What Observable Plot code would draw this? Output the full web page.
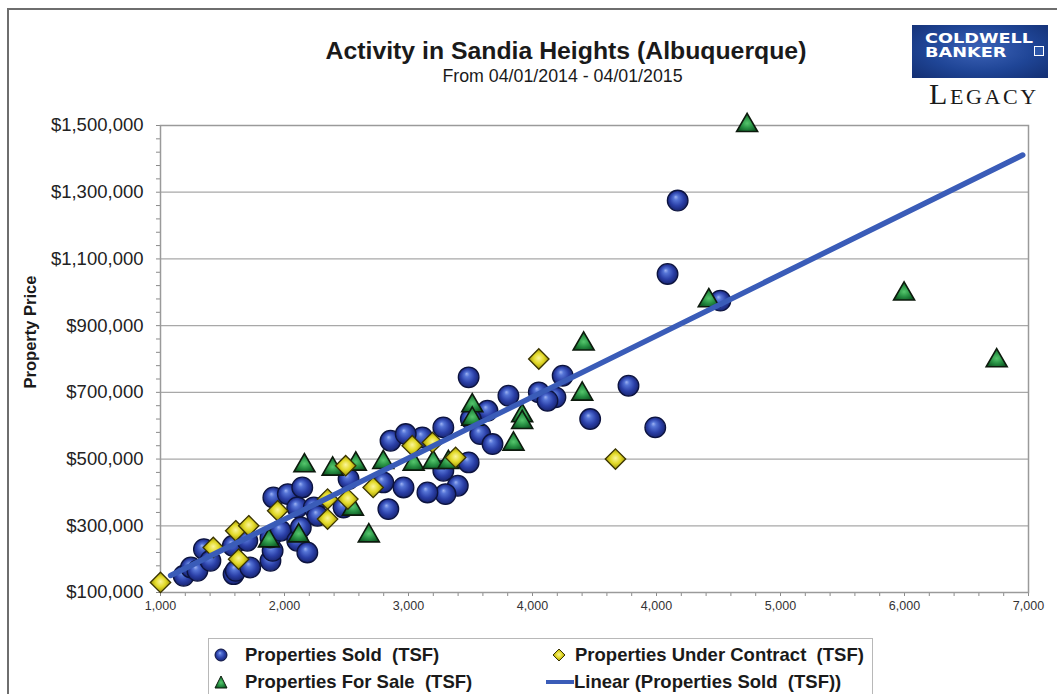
<!DOCTYPE html>
<html>
<head>
<meta charset="utf-8">
<script src="https://cdn.jsdelivr.net/npm/d3@7"></script>
<script src="https://cdn.jsdelivr.net/npm/@observablehq/plot@0.6"></script>
<style>
  html, body { margin: 0; padding: 0; background: #fff; }
  #wrap { position: relative; width: 1057px; height: 694px; overflow: hidden; background: #fff;
          font-family: Arial, "Liberation Sans", sans-serif; color: #222; }
  #frameL { position: absolute; left: 7px; top: 8px; width: 2px; height: 700px; background: #6e6e6e; }
  #frameT { position: absolute; left: 7px; top: 8px; width: 1060px; height: 2px; background: #6e6e6e; }
  #title { position: absolute; left: 0; width: 1132px; top: 36px; line-height: 30px; text-align: center; font-weight: bold; font-size: 24.8px; color: #1a1a1a; }
  #subtitle { position: absolute; left: 0; width: 1125px; top: 66px; line-height: 20px; text-align: center; font-size: 17.8px; color: #1a1a1a; }
  #ylabel { position: absolute; left: 30px; top: 332px; transform: translate(-50%, -50%) rotate(-90deg); font-weight: bold; font-size: 16.5px; white-space: nowrap; color: #1a1a1a; }
  #chart { position: absolute; left: 0; top: 0; }
  #logo { position: absolute; left: 912px; top: 25px; width: 136px; height: 53px;
          background: radial-gradient(ellipse at 50% 45%, #3d63b8 0%, #1f4596 55%, #132f72 100%); }
  #logo .l1, #logo .l2 { position: absolute; left: 13px; color: #fff; font-weight: bold; font-size: 14.5px; line-height: 13px; height: 13px;
          font-family: "DejaVu Sans", Arial, sans-serif; transform-origin: left center; white-space: nowrap; }
  #logo .l1 { top: 7px; transform: scaleX(1.22); } #logo .l2 { top: 21px; transform: scaleX(1.22); }
  #logo .ico { position: absolute; left: 122px; top: 21px; width: 8px; height: 8px; border: 1.5px solid #fff; background: #2c56a8; }
  #legacy { position: absolute; left: 929px; top: 78px; line-height: 32px; font-family: "Liberation Serif", "DejaVu Serif", serif; color: #1a1a1a; letter-spacing: 2.6px; white-space: nowrap; }
  #legacy .big { font-size: 30px; } #legacy .small { font-size: 22px; }
  #legend { position: absolute; left: 208px; top: 638px; width: 663px; height: 70px; border: 1px solid #b8b8b8; background: #fff; }
  .item { position: absolute; font-weight: bold; font-size: 18.5px; line-height: 22px; color: #1a1a1a; white-space: nowrap; display: flex; align-items: center; }
  .item svg { overflow: visible; }
</style>
</head>
<body>
<div id="wrap">
  <div id="frameL"></div>
  <div id="frameT"></div>
  <div id="chart"></div>
  <div id="title">Activity in Sandia Heights (Albuquerque)</div>
  <div id="subtitle">From 04/01/2014 - 04/01/2015</div>
  <div id="ylabel">Property Price</div>
  <div id="logo"><div class="l1">COLDWELL</div><div class="l2">BANKER</div><div class="ico"></div></div>
  <div id="legacy"><span class="big">L</span><span class="small">EGACY</span></div>
  <div id="legend"></div>
</div>
<script>
// ---- Data (square feet, price in dollars) ----
const soldSqft = [1160,1210,1255,1300,1345,1505,1520,1620,1500,1600,1760,1775,1760,1780,1880,1945,1980,1830,1945,2015,1970,2060,2085,2265,2300,2540,2680,2575,2590,3130,3405,3615,3780,3730,3675,4235,3970,4420,3260,3145,3210,3295,2955,2810,2695,3130,2955,3055,2970,2845,4575,4505,4870];
const soldPrice = [150,175,165,230,195,155,165,175,240,255,195,225,265,385,395,355,415,285,255,220,295,355,330,355,440,430,415,350,555,745,690,700,750,685,675,720,620,595,645,620,575,545,595,565,575,490,465,420,395,400,1275,1055,975].map(v => v * 1000);

const saleSqft = [1750,1955,1995,2190,2350,2540,2330,2440,2750,2885,2990,3155,3155,3500,3500,3440,3915,3925,4790,5055,6140,6780];
const salePrice = [255,270,480,470,485,490,350,270,485,490,490,660,620,630,610,545,695,845,975,1500,995,795].map(v => v * 1000);

const contractSqft = [1000,1365,1540,1520,1610,1810,2155,2155,2295,2280,2470,2740,2880,3040,3615,4145];
const contractPrice = [130,235,200,285,300,345,380,320,380,480,415,540,550,505,800,500].map(v => v * 1000);

// Linear trendline of Properties Sold (as drawn in the source chart)
const trendSlope = 214;        // $ per sq ft
const trendIntercept = -78000; // $
const trendRange = [1070, 6960];

// Axis ticks and labels
const xDomain = [1000, 7000];
const xTickLabels = ["1,000", "2,000", "3,000", "4,000", "4,000", "5,000", "6,000", "7,000"];
const yDomain = [100000, 1500000];
const yMajorTicks = [100000, 300000, 500000, 700000, 900000, 1100000, 1300000, 1500000];
const yTickLabels = ["$100,000", "$300,000", "$500,000", "$700,000", "$900,000", "$1,100,000", "$1,300,000", "$1,500,000"];

const seriesNames = ["Properties Sold  (TSF)", "Properties Under Contract  (TSF)", "Properties For Sale  (TSF)", "Linear (Properties Sold  (TSF))"];

// ---- Build tables ----
const sold = soldSqft.map((x, i) => ({sqft: x, price: soldPrice[i]}));
const forSale = saleSqft.map((x, i) => ({sqft: x, price: salePrice[i]}));
const contract = contractSqft.map((x, i) => ({sqft: x, price: contractPrice[i]}));
const trend = trendRange.map(x => ({sqft: x, price: trendIntercept + trendSlope * x}));

const xStep = (xDomain[1] - xDomain[0]) / (xTickLabels.length - 1) / 5;
const xTicks = d3.range(0, (xTickLabels.length - 1) * 5 + 1).map(k => xDomain[0] + k * xStep);
const yStep = 40000;
const yTicks = d3.range(yDomain[0], yDomain[1] + 1, yStep);

const fmtX = d => { const k = Math.round((d - xDomain[0]) / xStep); return k % 5 === 0 ? xTickLabels[k / 5] : ""; };
const fmtY = d => { const i = yMajorTicks.indexOf(d); return i >= 0 ? yTickLabels[i] : ""; };

const chart = Plot.plot({
  width: 1057,
  height: 620,
  marginLeft: 160,
  marginRight: 29,
  marginTop: 125,
  marginBottom: 28,
  style: {fontFamily: "Arial, 'Liberation Sans', sans-serif", fontSize: "18.5px", color: "#222", background: "transparent", overflow: "visible"},
  x: {domain: xDomain, ticks: xTicks, tickFormat: fmtX, tickSize: 4, tickPadding: 5, label: null},
  y: {domain: yDomain, ticks: yTicks, tickFormat: fmtY, tickSize: 4, tickPadding: 13, label: null},
  marks: [
    Plot.ruleY(yMajorTicks, {stroke: "#a8a8a8", strokeWidth: 1.2}),
    Plot.frame({stroke: "#9a9a9a", strokeWidth: 1.5}),
    Plot.dot(sold, {x: "sqft", y: "price", r: 10.3, fill: "url(#gBlue)", stroke: "#0c133f", strokeWidth: 1.3}),
    Plot.dot(forSale, {x: "sqft", y: "price", symbol: "triangle", r: 7.8, fill: "url(#gGreen)", stroke: "#0d1a0d", strokeWidth: 1.6}),
    Plot.dot(contract, {x: "sqft", y: "price", symbol: "diamond2", r: 9.2, fill: "url(#gYellow)", stroke: "#3a3400", strokeWidth: 1.3}),
    Plot.line(trend, {x: "sqft", y: "price", stroke: "#3a5cb8", strokeWidth: 5.5, strokeLinecap: "round"})
  ]
});

// gradients for the glossy markers
const defs = d3.select(chart).insert("defs", ":first-child");
function radial(id, stops, fx, fy) {
  const g = defs.append("radialGradient").attr("id", id).attr("cx", "50%").attr("cy", "50%").attr("r", "55%").attr("fx", fx).attr("fy", fy);
  stops.forEach(([o, c]) => g.append("stop").attr("offset", o).attr("stop-color", c));
}
radial("gBlue", [[0, "#9db2f2"], [0.22, "#5574d6"], [0.6, "#2b40a8"], [1, "#141f66"]], "40%", "32%");
radial("gGreen", [[0, "#55c56c"], [0.5, "#2a9446"], [1, "#0f5e25"]], "50%", "55%");
radial("gYellow", [[0, "#fbf59a"], [0.45, "#e3da2a"], [1, "#8f8500"]], "50%", "45%");

d3.select(chart).selectAll('[aria-label^="x-axis"] text').attr("font-size", "12.5px").attr("fill", "#333");
d3.select(chart).selectAll('[aria-label^="y-axis"] text').attr("fill", "#222");
d3.select(chart).selectAll('[aria-label^="x-axis"] path, [aria-label^="y-axis"] path, [aria-label^="x-axis"] line, [aria-label^="y-axis"] line').attr("stroke", "#8a8a8a");

document.getElementById("chart").appendChild(chart);

// ---- Legend ----
const legend = document.getElementById("legend");
const sym = {
  circle: '<svg width="14" height="16" style="margin-right:17px"><circle cx="7" cy="8" r="6" fill="url(#gBlue)" stroke="#0c133f" stroke-width="1"/></svg>',
  diamond: '<svg width="14" height="16" style="margin-right:9px"><path d="M7,2L13,8L7,14L1,8Z" fill="url(#gYellow)" stroke="#3a3400" stroke-width="1"/></svg>',
  triangle: '<svg width="14" height="16" style="margin-right:17px"><path d="M7,2L13,14L1,14Z" fill="url(#gGreen)" stroke="#0d1a0d" stroke-width="1"/></svg>',
  line: '<svg width="28" height="16" style="margin-right:0px"><line x1="0" y1="8" x2="28" y2="8" stroke="#3a5cb8" stroke-width="4"/></svg>'
};
const items = [
  {name: seriesNames[0], s: sym.circle, left: 5, top: 5},
  {name: seriesNames[1], s: sym.diamond, left: 343, top: 5},
  {name: seriesNames[2], s: sym.triangle, left: 5, top: 32},
  {name: seriesNames[3], s: sym.line, left: 337, top: 32}
];
items.forEach(it => {
  const d = document.createElement("div");
  d.className = "item";
  d.style.left = it.left + "px";
  d.style.top = it.top + "px";
  d.innerHTML = it.s + "<span>" + it.name.replace(/  /g, "&nbsp; ") + "</span>";
  legend.appendChild(d);
});
</script>
</body>
</html>
